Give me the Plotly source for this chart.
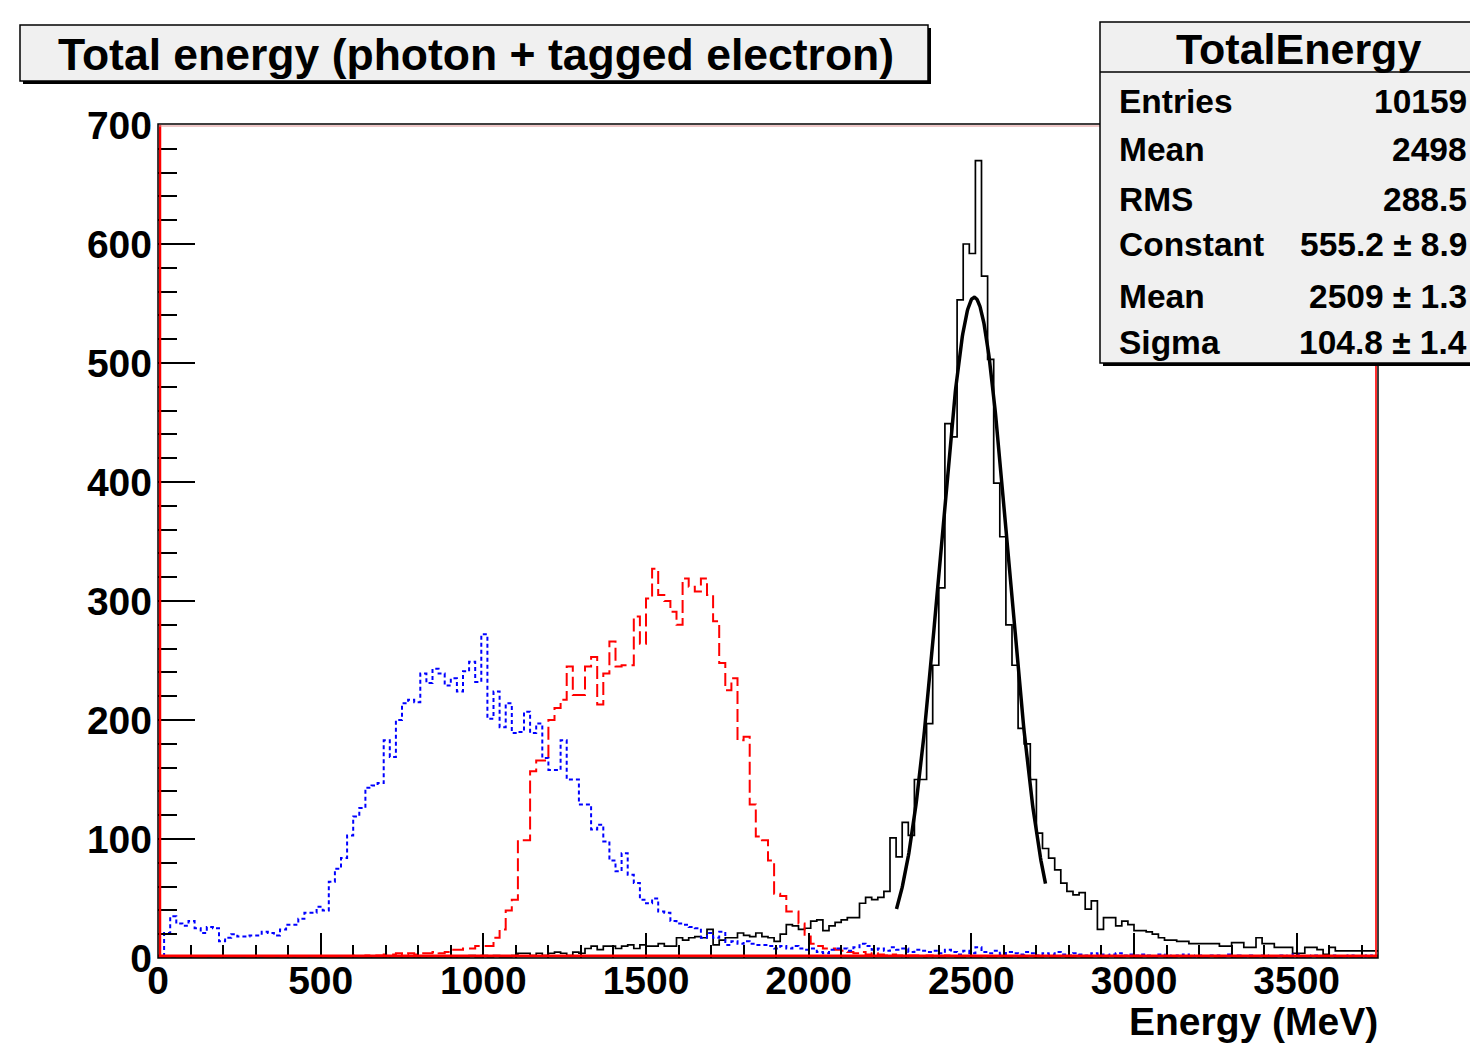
import numpy as np
import plotly.graph_objects as go

# ---------------- data ----------------
bin_width = 18.75          # MeV per bin (200 bins, 0 .. 3750 MeV)
x_min, x_max = 0.0, 3750.0

black_counts = [
    0, 0, 0, 0, 0, 0, 0, 0, 0, 0,
    0, 0, 0, 0, 0, 0, 0, 0, 0, 0,
    0, 0, 0, 0, 0, 0, 0, 0, 1, 0,
    0, 0, 0, 0, 1, 0, 0, 1, 0, 0,
    1, 0, 1, 0, 1, 1, 0, 1, 0, 1,
    1, 2, 1, 2, 1, 2, 1, 1, 2, 4,
    4, 2, 4, 2, 4, 5, 4, 2, 5, 4,
    8, 10, 7, 10, 10, 8, 10, 11, 8, 11,
    10, 10, 12, 10, 10, 17, 15, 17, 18, 17,
    24, 11, 15, 17, 17, 21, 19, 18, 21, 18,
    17, 14, 20, 28, 27, 24, 25, 31, 32, 23,
    27, 30, 32, 34, 34, 46, 51, 49, 51, 56,
    101, 85, 114, 103, 150, 150, 197, 246, 311, 449,
    438, 553, 600, 592, 670, 573, 503, 399, 354, 280,
    246, 193, 180, 150, 105, 92, 84, 74, 63, 56,
    53, 55, 41, 48, 24, 34, 34, 27, 31, 28,
    23, 23, 22, 20, 17, 15, 15, 14, 14, 12,
    12, 12, 12, 12, 10, 10, 13, 13, 9, 9,
    17, 12, 12, 9, 9, 9, 4, 4, 9, 9,
    7, 3, 9, 6, 6, 6, 6, 6, 6, 6,
]

red_counts = [
    0, 0, 0, 0, 0, 0, 0, 0, 0, 0,
    0, 0, 1, 0, 0, 0, 0, 0, 0, 1,
    0, 0, 1, 0, 0, 1, 0, 1, 0, 1,
    1, 1, 2, 1, 2, 2, 2, 3, 3, 4,
    3, 4, 3, 4, 4, 5, 4, 5, 7, 7,
    8, 8, 10, 10, 10, 17, 24, 40, 49, 99,
    99, 157, 166, 166, 200, 210, 217, 245, 221, 221,
    245, 253, 213, 239, 266, 245, 246, 246, 287, 264,
    302, 327, 305, 300, 291, 280, 319, 312, 308, 319,
    305, 283, 248, 225, 235, 183, 186, 129, 102, 99,
    82, 54, 52, 39, 39, 29, 18, 12, 10, 8,
    8, 7, 6, 5, 4, 5, 3, 4, 3, 2,
    3, 2, 1, 2, 2, 1, 2, 1, 1, 2,
    1, 1, 0, 1, 1, 0, 1, 0, 1, 0,
    0, 1, 0, 0, 1, 0, 0, 1, 0, 0,
    1, 0, 0, 0, 1, 0, 0, 0, 1, 0,
    0, 0, 1, 0, 0, 0, 0, 1, 0, 0,
    0, 0, 0, 1, 0, 0, 0, 0, 0, 0,
    1, 0, 0, 0, 0, 0, 1, 0, 0, 0,
    0, 0, 0, 0, 1, 0, 0, 0, 0, 0,
]

blue_counts = [
    0, 21, 35, 29, 27, 31, 25, 21, 26, 25,
    14, 17, 20, 18, 18, 19, 19, 22, 21, 19,
    24, 28, 28, 33, 38, 38, 43, 40, 64, 75,
    84, 103, 119, 126, 143, 145, 147, 183, 169, 200,
    214, 217, 215, 239, 231, 243, 239, 229, 235, 224,
    241, 249, 232, 272, 201, 224, 194, 214, 189, 190,
    207, 189, 197, 168, 158, 158, 183, 150, 150, 129,
    129, 108, 112, 98, 82, 73, 88, 70, 63, 49,
    46, 50, 39, 38, 31, 29, 28, 26, 25, 17,
    21, 17, 22, 11, 14, 12, 14, 12, 11, 11,
    10, 8, 10, 8, 10, 8, 7, 8, 5, 4,
    7, 8, 8, 6, 9, 12, 10, 7, 8, 6,
    9, 7, 8, 5, 7, 6, 5, 6, 4, 7,
    5, 3, 6, 4, 9, 5, 4, 6, 3, 5,
    4, 3, 5, 4, 2, 4, 3, 5, 3, 2,
    4, 3, 2, 4, 3, 2, 3, 4, 2, 3,
    2, 3, 2, 1, 3, 2, 1, 2, 3, 1,
    2, 1, 2, 2, 1, 3, 1, 2, 1, 2,
    1, 2, 1, 1, 2, 1, 3, 1, 1, 2,
    1, 1, 2, 1, 1, 2, 1, 1, 2, 1,
]

# Gaussian fit parameters shown in the statistics box
fit_constant = 555.2
fit_mean = 2509.0
fit_sigma = 104.8
fit_xlow, fit_xhigh = 2270.0, 2728.0

title_text = "Total energy (photon + tagged electron)"
x_title = "Energy (MeV)"
stats_title = "TotalEnergy"
stats_labels = ["Entries", "Mean", "RMS", "Constant", "Mean", "Sigma"]
stats_values = ["10159", "2498", "288.5", "555.2 \u00b1 8.9", "2509 \u00b1 1.3", "104.8 \u00b1 1.4"]

# ---------------- geometry ----------------
# The page body keeps an 8 px margin, so the figure is 8 px smaller and all
# positions below are reference screenshot pixels.
OFF = 8
W, H = 1478 - OFF, 1047 - OFF
PLOT_X0, PLOT_X1 = 158, 1378
PLOT_Y0, PLOT_Y1 = 125, 958
PW, PH = PLOT_X1 - PLOT_X0, PLOT_Y1 - PLOT_Y0
L = PLOT_X0 - OFF
T = PLOT_Y0 - OFF
R = W - L - PW
B = H - T - PH


def xp(px):
    return (px - PLOT_X0) / PW


def yp(py):
    return (PLOT_Y1 - py) / PH


FONT = "Liberation Sans, Arial, Helvetica, sans-serif"


def step_xy(counts):
    n = len(counts)
    edges = x_min + bin_width * np.arange(n + 1)
    xs = list(edges[:-1]) + [edges[-1]]
    ys = list(counts) + [counts[-1]]
    return xs, ys


fig = go.Figure()

bx, by = step_xy(black_counts)
fig.add_trace(go.Scatter(x=bx, y=by, mode="lines", line_shape="hv",
                         line=dict(color="black", width=1.7), showlegend=False,
                         hoverinfo="skip"))
rx, ry = step_xy(red_counts)
fig.add_trace(go.Scatter(x=rx, y=ry, mode="lines", line_shape="hv",
                         line=dict(color="#ff0000", width=2, dash="13px,5px"),
                         showlegend=False, hoverinfo="skip"))
ux, uy = step_xy(blue_counts)
fig.add_trace(go.Scatter(x=ux, y=uy, mode="lines", line_shape="hv",
                         line=dict(color="#0000ff", width=2, dash="4px,3px"),
                         showlegend=False, hoverinfo="skip"))

fx = np.linspace(fit_xlow, fit_xhigh, 300)
fy = fit_constant * np.exp(-0.5 * ((fx - fit_mean) / fit_sigma) ** 2)
fig.add_trace(go.Scatter(x=fx, y=fy, mode="lines",
                         line=dict(color="black", width=3.5), showlegend=False,
                         hoverinfo="skip"))

tickfont = dict(family=FONT, size=39, color="black", weight="bold")

fig.update_xaxes(range=[x_min, x_max], tickmode="linear", tick0=0, dtick=500,
                 ticks="inside", ticklen=25, tickwidth=2, tickcolor="black",
                 minor=dict(dtick=100, ticks="inside", ticklen=13, tickwidth=1.5,
                            tickcolor="black", showgrid=False),
                 showgrid=False, zeroline=False, showline=False,
                 tickfont=tickfont, ticklabelstandoff=-4)
fig.update_yaxes(range=[0, 700], tickmode="linear", tick0=0, dtick=100,
                 ticks="inside", ticklen=37, tickwidth=2, tickcolor="black",
                 minor=dict(dtick=20, ticks="inside", ticklen=19, tickwidth=1.5,
                            tickcolor="black", showgrid=False),
                 showgrid=False, zeroline=False, showline=False,
                 tickfont=tickfont, ticklabelstandoff=5)

shapes = []
# frame: red inner lines + black outer rectangle
shapes.append(dict(type="line", xref="paper", yref="paper", x0=xp(160), x1=xp(160),
                   y0=yp(958), y1=yp(125), line=dict(color="#ff0000", width=2.5), layer="above"))
shapes.append(dict(type="line", xref="paper", yref="paper", x0=xp(1376), x1=xp(1376),
                   y0=yp(958), y1=yp(125), line=dict(color="#ff3030", width=2), layer="above"))
shapes.append(dict(type="line", xref="paper", yref="paper", x0=xp(158), x1=xp(1378),
                   y0=yp(956), y1=yp(956), line=dict(color="#ff0000", width=3), layer="above"))
shapes.append(dict(type="line", xref="paper", yref="paper", x0=xp(158), x1=xp(1378),
                   y0=yp(126), y1=yp(126), line=dict(color="#e09090", width=1.2), layer="above"))
shapes.append(dict(type="rect", xref="paper", yref="paper", x0=xp(158), x1=xp(1378),
                   y0=yp(958), y1=yp(124), line=dict(color="black", width=1.5), layer="above"))

# title box with shadow
shapes.append(dict(type="rect", xref="paper", yref="paper", x0=xp(23), x1=xp(931),
                   y0=yp(84), y1=yp(28), fillcolor="black", line=dict(width=0), layer="above"))
shapes.append(dict(type="rect", xref="paper", yref="paper", x0=xp(20), x1=xp(928),
                   y0=yp(81), y1=yp(25), fillcolor="#f0f0f0",
                   line=dict(color="black", width=1.5), layer="above"))

# statistics box with shadow (runs off the right edge, as in the reference)
shapes.append(dict(type="rect", xref="paper", yref="paper", x0=xp(1103), x1=xp(1510),
                   y0=yp(366), y1=yp(25), fillcolor="black", line=dict(width=0), layer="above"))
shapes.append(dict(type="rect", xref="paper", yref="paper", x0=xp(1100), x1=xp(1505),
                   y0=yp(363), y1=yp(22), fillcolor="#f0f0f0",
                   line=dict(color="black", width=1.5), layer="above"))
shapes.append(dict(type="line", xref="paper", yref="paper", x0=xp(1100), x1=xp(1505),
                   y0=yp(72), y1=yp(72), line=dict(color="black", width=1.5), layer="above"))

annotations = []
annotations.append(dict(text=title_text, xref="paper", yref="paper", x=xp(476), y=yp(54),
                        xanchor="center", yanchor="middle", showarrow=False,
                        font=dict(family=FONT, size=44.5, color="black", weight="bold")))
annotations.append(dict(text=stats_title, xref="paper", yref="paper", x=xp(1298), y=yp(49),
                        xanchor="center", yanchor="middle", showarrow=False,
                        font=dict(family=FONT, size=43, color="black", weight="bold")))
row_y = [101, 149, 200, 245, 296, 342]
for lab, val, ry_ in zip(stats_labels, stats_values, row_y):
    annotations.append(dict(text=lab, xref="paper", yref="paper", x=xp(1117), y=yp(ry_),
                            xanchor="left", yanchor="middle", showarrow=False,
                            font=dict(family=FONT, size=33.5, color="black", weight="bold")))
    annotations.append(dict(text=val, xref="paper", yref="paper", x=xp(1469), y=yp(ry_),
                            xanchor="right", yanchor="middle", showarrow=False,
                            font=dict(family=FONT, size=33.5, color="black", weight="bold")))
annotations.append(dict(text=x_title, xref="paper", yref="paper", x=xp(1380), y=yp(1021),
                        xanchor="right", yanchor="middle", showarrow=False,
                        font=dict(family=FONT, size=39, color="black", weight="bold")))

fig.update_layout(width=W, height=H, margin=dict(l=L, r=R, t=T, b=B, autoexpand=False),
                  paper_bgcolor="white", plot_bgcolor="white",
                  shapes=shapes, annotations=annotations, showlegend=False)

fig.write_html("out.html")
